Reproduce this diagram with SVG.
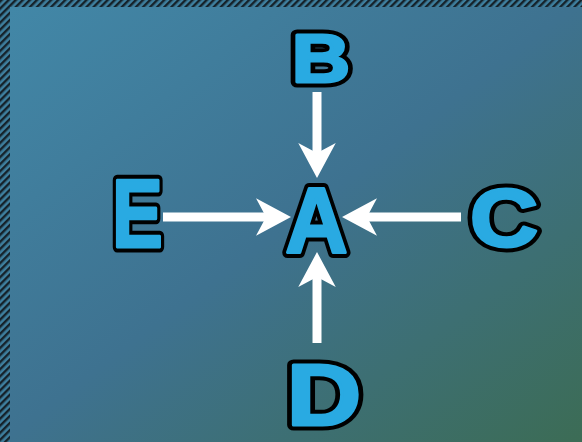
<svg xmlns="http://www.w3.org/2000/svg" width="582" height="442" viewBox="0 0 582 442">
<style>
.lbl{font-family:"Liberation Sans",Arial,sans-serif;font-weight:bold;text-anchor:middle;stroke-linejoin:round}
.ol{fill:#000;stroke:#000;stroke-width:11}
.fg{fill:#29aae2;stroke:#29aae2;stroke-width:3}
.edge{stroke:#fff;stroke-width:9;fill:none;marker-end:url(#ah)}
</style>
<defs>
<linearGradient id="bg" x1="0" y1="0" x2="1" y2="1">
<stop offset="0" stop-color="#4288a8"/>
<stop offset="0.5" stop-color="#3e7290"/>
<stop offset="1" stop-color="#3c6c55"/>
</linearGradient>
<pattern id="hatch" width="5" height="5" patternUnits="userSpaceOnUse" patternTransform="rotate(45)">
<rect width="5" height="5" fill="#3e7f9e"/>
<rect width="2.4" height="5" fill="#15222a"/>
</pattern>
<marker id="ah" markerUnits="userSpaceOnUse" markerWidth="40" markerHeight="40" viewBox="-10 -16 32 32" refX="0" refY="0" orient="auto">
<path d="M20,0 L-8,-15 L0,0 L-8,15 Z" fill="#fff"/>
</marker>
</defs>
<rect width="582" height="442" fill="url(#bg)"/>
<rect x="0" y="0" width="582" height="7" fill="url(#hatch)"/>
<rect x="0" y="0" width="10" height="442" fill="url(#hatch)"/>
<g id="connectors">
<line class="edge" x1="317" y1="92" x2="317" y2="153"/>
<line class="edge" x1="317" y1="343" x2="317" y2="277"/>
<line class="edge" x1="163" y1="217" x2="266" y2="217"/>
<line class="edge" x1="461" y1="217" x2="367" y2="217"/>
</g>
<g id="node-A" class="lbl" font-size="92" transform="translate(316.5,251.8) scale(0.94,1)"><text class="ol">A</text><text class="fg">A</text></g>
<g id="node-B" class="lbl" font-size="68.4" transform="translate(321,81.5) scale(1.18,1)"><text class="ol">B</text><text class="fg">B</text></g>
<g id="node-C" class="lbl" font-size="81" transform="translate(504,245.5) scale(1.165,1)"><text class="ol">C</text><text class="fg">C</text></g>
<g id="node-D" class="lbl" font-size="86.6" transform="translate(324,424.5) scale(1.19,1)"><text class="ol">D</text><text class="fg">D</text></g>
<g id="node-E" class="lbl" font-size="96.4" transform="translate(137.3,247.2) scale(0.79,1)"><text class="ol">E</text><text class="fg">E</text></g>
</svg>
